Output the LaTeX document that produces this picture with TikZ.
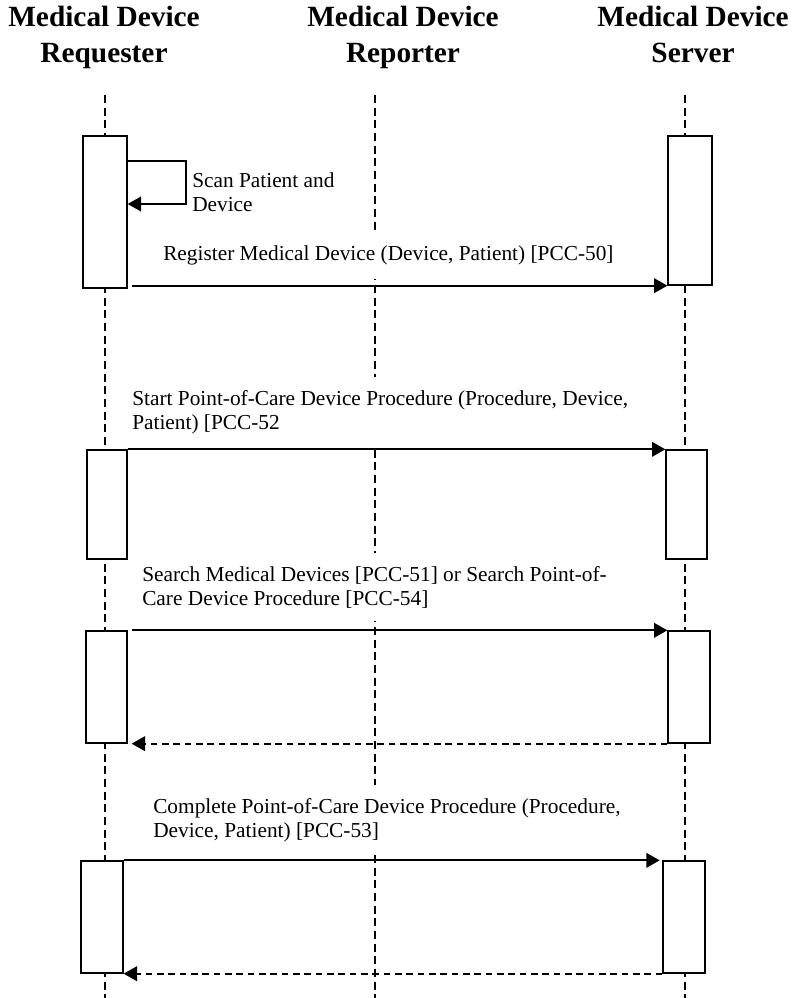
\documentclass[tikz,border=0pt]{standalone}
\usepackage{fontspec}
\setmainfont{Liberation Serif}
\usetikzlibrary{arrows.meta,positioning,fit}
\tikzset{
 actor/.style={font=\fontsize{22}{27}\selectfont\bfseries, align=center, inner sep=0pt},
 life/.style={line width=1pt, dash pattern=on 6pt off 3.5pt},
 act/.style={draw, line width=1pt, fill=white, inner sep=0pt},
 msg/.style={-{Triangle[length=10pt,width=11pt]}, line width=1.3pt},
 reply/.style={msg, dash pattern=on 5pt off 3.5pt},
 lbl/.style={font=\fontsize{16}{18}\selectfont, align=left, fill=white, inner xsep=0pt, inner ysep=10pt}
}

\begin{document}
\begin{tikzpicture}[x=0.75pt,y=-0.75pt]
\useasboundingbox (0,0) rectangle (794,998);

% actors
\node[actor, anchor=base] (req) at (104,63) {Medical Device\\Requester};
\node[actor, anchor=base] (rep) at (403,63) {Medical Device\\Reporter};
\node[actor, anchor=base] (srv) at (693,63) {Medical Device\\Server};

% lifelines
\foreach \n/\x in {reqL/105,repL/375,srvL/685}
 \draw[life] (\x,95) coordinate (\n top) -- (\x,998) coordinate (\n bot);

% activation boxes
\node[act, fit={(83,136) (127,288)}] (r1) {};
\node[act, fit={(668,136) (712,285)}] (s1) {};
\node[act, fit={(87,450) (127,559)}] (r2) {};
\node[act, fit={(666,450) (707,559)}] (s2) {};
\node[act, fit={(86,631) (127,743)}] (r3) {};
\node[act, fit={(668,631) (710,743)}] (s3) {};
\node[act, fit={(81,861) (123,973)}] (r4) {};
\node[act, fit={(663,861) (705,973)}] (s4) {};

% labels
\node[lbl, anchor=base west] (scan) at (192,212) {Scan Patient and\\Device};
\node[lbl, anchor=base west] (reg) at (163,261) {Register Medical Device (Device, Patient) [PCC-50]};
\node[lbl, anchor=base west] (start) at (132,429) {Start Point-of-Care Device Procedure (Procedure, Device,\\Patient) [PCC-52};
\node[lbl, anchor=base west] (search) at (142,605) {Search Medical Devices [PCC-51] or Search Point-of-\\Care Device Procedure [PCC-54]};
\node[lbl, anchor=base west] (done) at (153,837) {Complete Point-of-Care Device Procedure (Procedure,\\Device, Patient) [PCC-53]};

% messages
\coordinate (scanA) at (186,161);
\coordinate (scanB) at (186,204);
\draw[msg, line width=1pt] (r1.east |- scanA) -- (scanA) -- (scanB) -- (r1.east |- scanB);
\draw[msg] ([xshift=3pt]r1.east |- s1.south) -- (s1.south west);
\draw[msg] (r2.north east) -- (s2.north west);
\draw[msg] ([xshift=3pt]r3.north east) -- (s3.north west);
\draw[reply] (s3.south west) -- ([xshift=3pt]r3.south east);
\draw[msg] (r4.north east) -- ([xshift=-2pt]s4.north west);
\draw[reply] (s4.south west) -- (r4.south east);
\end{tikzpicture}
\end{document}
